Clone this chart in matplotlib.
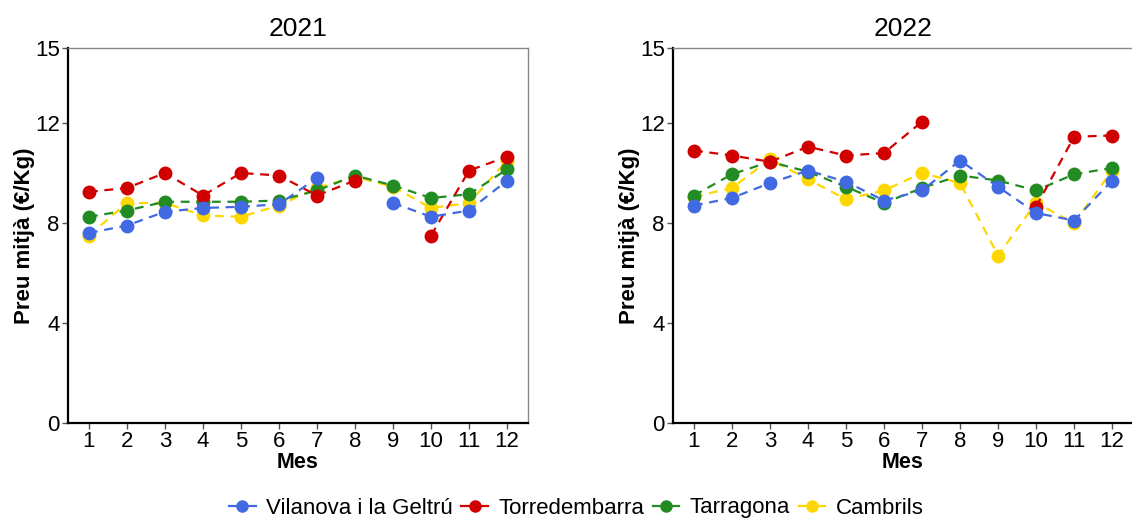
import numpy as np
import matplotlib.pyplot as plt
from matplotlib.lines import Line2D

plt.rcParams['font.family'] = ['Liberation Sans', 'DejaVu Sans']

months = list(range(1, 13))
nan = np.nan

# 2021
vilanova_2021 = [7.6, 7.9, 8.45, 8.6, 8.65, 8.75, 9.8, nan, 8.8, 8.25, 8.5, 9.7]
torredembarra_2021 = [9.25, 9.4, 10.0, 9.1, 10.0, 9.9, 9.1, 9.7, nan, 7.5, 10.1, 10.65]
tarragona_2021 = [8.25, 8.5, 8.85, 8.85, 8.85, 8.9, 9.3, 9.9, 9.5, 9.0, 9.15, 10.15]
cambrils_2021 = [7.5, 8.8, 8.8, 8.3, 8.25, 8.7, 9.4, 9.85, 9.45, 8.6, 8.8, 10.5]

# 2022
vilanova_2022 = [8.7, 9.0, 9.6, 10.1, 9.65, 8.9, 9.3, 10.5, 9.45, 8.4, 8.1, 9.7]
torredembarra_2022 = [10.9, 10.7, 10.45, 11.05, 10.7, 10.8, 12.05, nan, nan, 8.65, 11.45, 11.5]
tarragona_2022 = [9.1, 9.95, 10.45, 10.05, 9.45, 8.8, 9.4, 9.9, 9.7, 9.3, 9.95, 10.2]
cambrils_2022 = [9.05, 9.4, 10.55, 9.75, 8.95, 9.3, 10.0, 9.6, 6.7, 8.8, 8.0, 10.1]

zones = ['Vilanova i la Geltrú', 'Torredembarra', 'Tarragona', 'Cambrils']
colors = ['#4169E1', '#D00000', '#228B22', '#FFD700']
years = ['2021', '2022']
data = {
    '2021': [vilanova_2021, torredembarra_2021, tarragona_2021, cambrils_2021],
    '2022': [vilanova_2022, torredembarra_2022, tarragona_2022, cambrils_2022],
}

W, H = 1132, 520
fig = plt.figure(figsize=(W / 100, H / 100), dpi=100)

panel_left = [68, 673]
for year, px in zip(years, panel_left):
    ax = fig.add_axes([px / W, 97 / H, 460 / W, 375 / H])
    # draw in reverse so Vilanova sits on top
    for vals, col in reversed(list(zip(data[year], colors))):
        ax.plot(months, vals, color=col, linestyle=(0, (4, 3)), linewidth=1.6,
                marker='o', markersize=10, markeredgewidth=0)
    ax.set_xlim(0.45, 12.55)
    ax.set_ylim(0, 15)
    ax.set_xticks(months)
    ax.set_yticks([0, 4, 8, 12, 15])
    ax.tick_params(axis='both', labelsize=16, color='#555555', length=4,
                   width=1, pad=2, labelcolor='black')
    for side in ['left', 'bottom']:
        ax.spines[side].set_color('black')
        ax.spines[side].set_linewidth(1.6)
    for side in ['top', 'right']:
        ax.spines[side].set_color('#888888')
        ax.spines[side].set_linewidth(1.0)
    ax.set_title(year, fontsize=19, pad=9)
    ax.set_xlabel('Mes', fontsize=15.5, fontweight='bold', labelpad=0)
    ax.set_ylabel('Preu mitjà (€/Kg)', fontsize=16, fontweight='bold', labelpad=0)

handles = [Line2D([0], [0], color=c, linestyle='-', linewidth=1.6, marker='o',
                  markersize=9, markeredgewidth=0) for c in colors]
fig.legend(handles, zones, loc='center', bbox_to_anchor=(0.509, 12 / H), ncol=4,
           frameon=False, fontsize=16, handlelength=1.2, handletextpad=0.45,
           columnspacing=0.4, borderaxespad=0)

fig.savefig('out.png', dpi=100)
